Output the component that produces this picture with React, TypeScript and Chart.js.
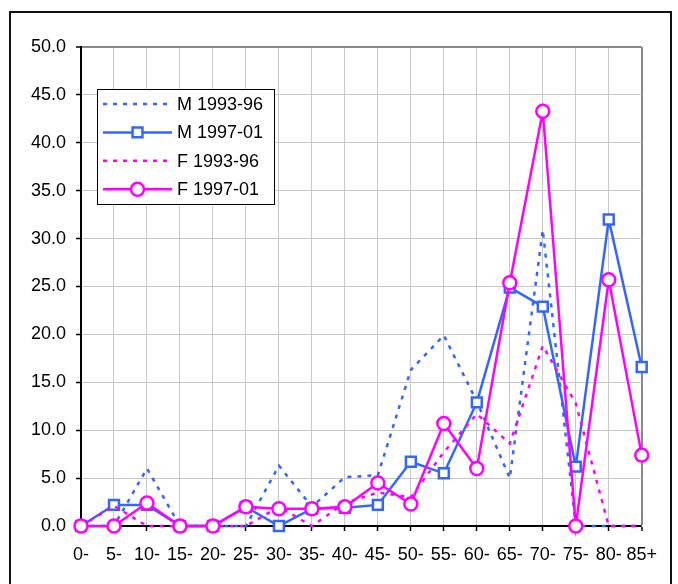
import React, { useEffect, useRef } from 'react';
import { Chart, registerables } from 'chart.js';

Chart.register(...registerables);

const categories = ['0-', '5-', '10-', '15-', '20-', '25-', '30-', '35-', '40-', '45-', '50-', '55-', '60-', '65-', '70-', '75-', '80-', '85+'];
const m1993 = [0, 0, 6.0, 0, 0, 0, 6.3, 2.0, 5.1, 5.3, 16.3, 19.9, 13.0, 5.0, 30.9, 0, 0, 0];
const m1997 = [0, 2.2, 2.2, 0, 0, 2.0, 0, 1.8, 1.9, 2.2, 6.7, 5.5, 12.9, 24.9, 22.9, 6.2, 32.0, 16.6];
const f1993 = [0, 2.1, 0, 0, 0, 0, 2.0, 0, 2.4, 3.5, 3.0, 7.7, 11.7, 8.6, 18.8, 12.8, 0, 0];
const f1997 = [0, 0, 2.4, 0, 0, 2.0, 1.8, 1.8, 2.0, 4.5, 2.3, 10.7, 6.0, 25.4, 43.3, 0, 25.7, 7.4];
const seriesNames = ['M 1993-96', 'M 1997-01', 'F 1993-96', 'F 1997-01'];

const BLUE = '#3366ff';
const MAGENTA = '#ff00ff';
const FONT = "'Liberation Sans', Arial, sans-serif";

export default function App() {
  const ref = useRef<HTMLCanvasElement>(null);

  useEffect(() => {
    if (!ref.current) return;

    const legendPlugin = {
      id: 'boxLegend',
      afterDraw(chart: any) {
        const ctx = chart.ctx as CanvasRenderingContext2D;
        ctx.save();
        const bx = 86, by = 76, bw = 177, bh = 115;
        ctx.fillStyle = '#ffffff';
        ctx.fillRect(bx, by, bw, bh);
        ctx.strokeStyle = '#000000';
        ctx.lineWidth = 1;
        ctx.strokeRect(bx + 0.5, by + 0.5, bw, bh);
        chart.data.datasets.forEach((ds: any, i: number) => {
          const y = 91 + i * 28.4;
          const x0 = 92, x1 = 161, xm = (x0 + x1) / 2;
          ctx.strokeStyle = ds.borderColor;
          ctx.lineWidth = ds.borderWidth;
          ctx.setLineDash(ds.borderDash || []);
          ctx.beginPath();
          ctx.moveTo(x0, y);
          ctx.lineTo(x1, y);
          ctx.stroke();
          ctx.setLineDash([]);
          if (ds.pointRadius > 0) {
            ctx.fillStyle = '#ffffff';
            ctx.lineWidth = ds.pointBorderWidth;
            ctx.strokeStyle = ds.pointBorderColor;
            ctx.beginPath();
            if (ds.pointStyle === 'rect') {
              const s = Math.SQRT1_2 * ds.pointRadius;
              ctx.rect(xm - s, y - s, 2 * s, 2 * s);
            } else {
              ctx.arc(xm, y, ds.pointRadius, 0, Math.PI * 2);
            }
            ctx.fill();
            ctx.stroke();
          }
          ctx.fillStyle = '#000000';
          ctx.font = `18px ${FONT}`;
          ctx.textBaseline = 'middle';
          ctx.textAlign = 'left';
          ctx.fillText(ds.label, 166, y + 1);
        });
        ctx.restore();
      },
    };

    const chart = new Chart(ref.current, {
      type: 'line',
      data: {
        labels: categories,
        datasets: [
          {
            label: seriesNames[0], data: m1993, borderColor: BLUE, borderWidth: 2.5,
            borderDash: [4, 6], pointRadius: 0, pointHoverRadius: 0, fill: false,
            tension: 0, order: 4, clip: false as any,
          },
          {
            label: seriesNames[1], data: m1997, borderColor: BLUE, borderWidth: 2.5,
            pointStyle: 'rect', pointRadius: 7, pointBorderWidth: 2.5,
            pointBorderColor: BLUE, pointBackgroundColor: '#ffffff', fill: false,
            tension: 0, order: 3, clip: false as any,
          },
          {
            label: seriesNames[2], data: f1993, borderColor: MAGENTA, borderWidth: 2.5,
            borderDash: [4, 6], pointRadius: 0, pointHoverRadius: 0, fill: false,
            tension: 0, order: 2, clip: false as any,
          },
          {
            label: seriesNames[3], data: f1997, borderColor: MAGENTA, borderWidth: 2.5,
            pointStyle: 'circle', pointRadius: 6.5, pointBorderWidth: 2.5,
            pointBorderColor: MAGENTA, pointBackgroundColor: '#ffffff', fill: false,
            tension: 0, order: 1, clip: false as any,
          },
        ],
      },
      options: {
        responsive: false,
        animation: false,
        devicePixelRatio: 1,
        layout: { padding: { top: 34, right: 27, left: 0, bottom: 0 } },
        plugins: { legend: { display: false }, tooltip: { enabled: false } },
        scales: {
          x: {
            type: 'category',
            offset: false,
            afterFit: (s: any) => { s.height = 62; },
            grid: {
              color: (c: any) => (c.index === categories.length - 1 ? '#888888' : '#c8c8c8'),
              lineWidth: (c: any) => (c.index === categories.length - 1 ? 2 : 1),
              tickColor: '#000000',
              tickLength: 5,
              tickWidth: 1.5,
            },
            border: { color: '#000000', width: 2 },
            ticks: {
              color: '#000000', font: { family: FONT, size: 18 }, padding: 13,
              maxRotation: 0, autoSkip: false,
            },
          },
          y: {
            min: 0, max: 50,
            afterFit: (s: any) => { s.width = 70; },
            grid: {
              color: (c: any) => (c.tick && c.tick.value === 50 ? '#888888' : '#c8c8c8'),
              lineWidth: (c: any) => (c.tick && c.tick.value === 50 ? 2 : 1),
              tickColor: '#000000',
              tickLength: 5,
              tickWidth: 1.5,
            },
            border: { color: '#000000', width: 2 },
            ticks: {
              stepSize: 5, color: '#000000', font: { family: FONT, size: 18 }, padding: 10,
              callback: (v: any) => Number(v).toFixed(1),
            },
          },
        },
      },
      plugins: [legendPlugin],
    } as any);

    return () => chart.destroy();
  }, []);

  return (
    <div
      style={{
        position: 'fixed', left: 9, top: 11, width: 663, height: 600,
        boxSizing: 'border-box', border: '2px solid #111', background: '#fff',
      }}
    >
      <canvas ref={ref} width={659} height={575} style={{ display: 'block' }} />
    </div>
  );
}
